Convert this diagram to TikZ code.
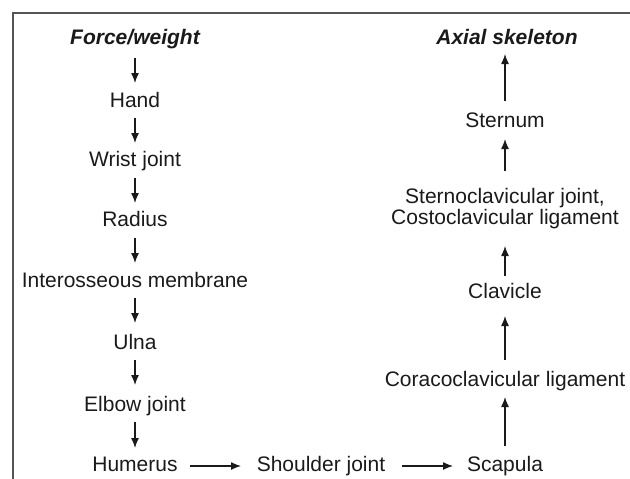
\documentclass[tikz,border=0pt]{standalone}
\usepackage{fontspec}
\setmainfont{Liberation Sans}
\usetikzlibrary{arrows.meta}
\definecolor{txt}{HTML}{1A1A1A}
\definecolor{frame}{HTML}{555555}
\tikzset{
  lbl/.style={anchor=base, inner sep=0pt, text=txt, font=\fontsize{21}{25}\selectfont},
  ttl/.style={lbl, font=\fontsize{21}{25}\selectfont\bfseries\itshape},
  arr/.style={draw=txt, line width=1.3pt, -{Latex[length=10pt,width=8pt]}},
}
\begin{document}
\begin{tikzpicture}[x=1pt,y=-1pt]
\useasboundingbox (0,0) rectangle (630,479);
\draw[frame, line width=1.5pt] (13,479) -- (13,13) -- (630,13);
% left column
\node[ttl] (fw) at (135,44) {Force/weight};
\node[lbl] (hand) at (135,107) {Hand};
\node[lbl] (wrist) at (135,166) {Wrist joint};
\node[lbl] (radius) at (135,226) {Radius};
\node[lbl] (inter) at (135,287) {Interosseous membrane};
\node[lbl] (ulna) at (135,349) {Ulna};
\node[lbl] (elbow) at (135,411) {Elbow joint};
\node[lbl] (hum) at (135,471) {Humerus};
\node[lbl] (shoulder) at (321,471) {Shoulder joint};
\node[lbl] (scap) at (505,471) {Scapula};
% right column
\node[ttl] (axial) at (507,44) {Axial skeleton};
\node[lbl] (stern) at (505,127) {Sternum};
\node[lbl, align=center] (sc) at (505,224) {Sternoclavicular joint,\\[-4pt]Costoclavicular ligament};
\node[lbl] (clav) at (505,298) {Clavicle};
\node[lbl] (cc) at (505,386) {Coracoclavicular ligament};
% coordinates for arrows
\coordinate (a1s) at (135,58); \coordinate (a1e) at (135,83);
\coordinate (a2s) at (135,118); \coordinate (a2e) at (135,143);
\coordinate (a3s) at (135,178); \coordinate (a3e) at (135,203);
\coordinate (a4s) at (135,238); \coordinate (a4e) at (135,263);
\coordinate (a5s) at (135,298); \coordinate (a5e) at (135,323);
\coordinate (a6s) at (135,360); \coordinate (a6e) at (135,385);
\coordinate (a7s) at (135,422); \coordinate (a7e) at (135,448);
\coordinate (h1s) at (190,466); \coordinate (h1e) at (241,466);
\coordinate (h2s) at (402,466); \coordinate (h2e) at (453,466);
\coordinate (u1s) at (505,446); \coordinate (u1e) at (505,397);
\coordinate (u2s) at (505,360); \coordinate (u2e) at (505,316);
\coordinate (u3s) at (505,276); \coordinate (u3e) at (505,246);
\coordinate (u4s) at (505,171); \coordinate (u4e) at (505,139);
\coordinate (u5s) at (505,101); \coordinate (u5e) at (505,54);
\foreach \s/\e in {a1s/a1e,a2s/a2e,a3s/a3e,a4s/a4e,a5s/a5e,a6s/a6e,a7s/a7e,h1s/h1e,h2s/h2e,u1s/u1e,u2s/u2e,u3s/u3e,u4s/u4e,u5s/u5e}
  \draw[arr] (\s) -- (\e);
\end{tikzpicture}
\end{document}
